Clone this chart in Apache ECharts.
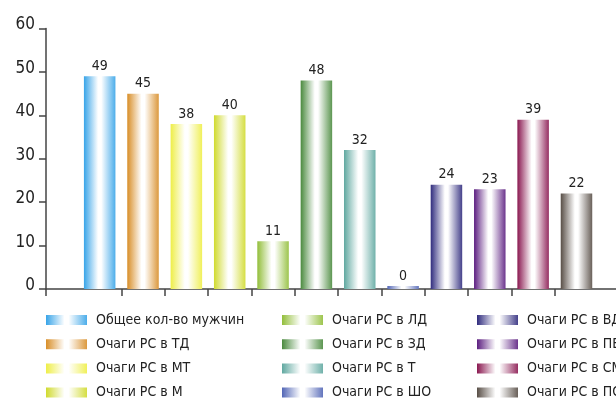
<!DOCTYPE html>
<html>
<head>
<meta charset="utf-8">
<script src="https://cdn.jsdelivr.net/npm/echarts@6/dist/echarts.min.js"></script>
<style>
html,body{margin:0;padding:0;background:#fff;}
#c{width:616px;height:402px;}
</style>
</head>
<body>
<div id="c"></div>
<script>
var categories = [
  'Общее кол-во мужчин', 'Очаги РС в ТД', 'Очаги РС в МТ', 'Очаги РС в М',
  'Очаги РС в ЛД', 'Очаги РС в ЗД', 'Очаги РС в Т', 'Очаги РС в ШО',
  'Очаги РС в ВД', 'Очаги РС в ПВ', 'Очаги РС в СМ', 'Очаги РС в ПО'
];
var values = [49, 45, 38, 40, 11, 48, 32, 0, 24, 23, 39, 22];
var colors = ['#38a4e8', '#d88e28', '#eeee48', '#d0da2e', '#92be3a', '#4a8a3e',
              '#60a8a0', '#5266b6', '#302c7e', '#5c1e80', '#8a1850', '#584e46'];
var yTicks = [0, 10, 20, 30, 40, 50, 60];

var FONT = "'DejaVu Sans Condensed', 'Liberation Sans Narrow', sans-serif";

function lighten(hex, t) {
  var r = parseInt(hex.substr(1, 2), 16), g = parseInt(hex.substr(3, 2), 16), b = parseInt(hex.substr(5, 2), 16);
  r = Math.round(r + (255 - r) * t); g = Math.round(g + (255 - g) * t); b = Math.round(b + (255 - b) * t);
  return 'rgb(' + r + ',' + g + ',' + b + ')';
}
function grad(c) {
  return new echarts.graphic.LinearGradient(0, 0, 1, 0, [
    { offset: 0, color: c },
    { offset: 0.45, color: '#ffffff' },
    { offset: 0.55, color: '#ffffff' },
    { offset: 1, color: lighten(c, 0.1) }
  ]);
}

var axisCategories = categories.map(function (n, i) { return String(i); }).concat(['']);

var series = categories.map(function (name, i) {
  var data = values.map(function (v, j) { return j === i ? v : '-'; });
  return {
    name: name,
    type: 'bar',
    stack: 'all',
    xAxisIndex: 0,
    yAxisIndex: 0,
    barWidth: 31.5,
    barMinHeight: values[i] === 0 ? 3 : 0,
    data: data,
    itemStyle: { color: grad(colors[i]) },
    label: {
      show: true,
      position: 'top',
      distance: 3,
      color: '#222',
      fontSize: 14,
      fontFamily: FONT
    }
  };
});

function legend(idx, left) {
  return {
    orient: 'vertical',
    left: left,
    top: 313,
    padding: 0,
    itemGap: 10.2,
    itemWidth: 41,
    itemHeight: 10,
    selectedMode: false,
    icon: 'rect',
    data: categories.slice(idx * 4, idx * 4 + 4),
    textStyle: { fontSize: 14, fontFamily: FONT, color: '#222', padding: [0, 0, 0, 4] }
  };
}

var option = {
  animation: false,
  backgroundColor: '#fff',
  legend: [legend(0, 46), legend(1, 282), legend(2, 477)],
  grid: [
    { left: 78, width: 563.5, top: 28.5, bottom: 113, containLabel: false, outerBoundsMode: 'none' },
    { left: 46, width: 620, top: 28.5, bottom: 113, containLabel: false, outerBoundsMode: 'none' }
  ],
  xAxis: [
    {
      type: 'category',
      gridIndex: 0,
      data: axisCategories,
      boundaryGap: true,
      axisLine: { show: false },
      axisTick: {
        show: true, length: 7,
        interval: function (i) { return i >= 1 && i <= 11; },
        lineStyle: { color: '#444', width: 1.5 }
      },
      axisLabel: { show: false }
    },
    {
      type: 'category',
      gridIndex: 1,
      data: [''],
      boundaryGap: true,
      axisLine: { show: true, lineStyle: { color: '#444', width: 1.5 } },
      axisTick: { show: true, length: 7, lineStyle: { color: '#444', width: 1.5 } },
      axisLabel: { show: false }
    }
  ],
  yAxis: [
    {
      type: 'value', gridIndex: 0, min: 0, max: 60, interval: 10,
      show: false, splitLine: { show: false }
    },
    {
      type: 'value', gridIndex: 1, min: yTicks[0], max: yTicks[yTicks.length - 1], interval: 10,
      axisLine: { show: true, lineStyle: { color: '#444', width: 1.5 } },
      axisTick: { show: true, length: 7, lineStyle: { color: '#444', width: 1.5 } },
      splitLine: { show: false },
      axisLabel: {
        margin: 11, color: '#222', fontSize: 17, fontFamily: FONT,
        verticalAlign: 'bottom', lineHeight: 7
      }
    }
  ],
  series: series
};

var chart = echarts.init(document.getElementById('c'), null, { renderer: 'canvas' });
chart.setOption(option);
</script>
</body>
</html>
